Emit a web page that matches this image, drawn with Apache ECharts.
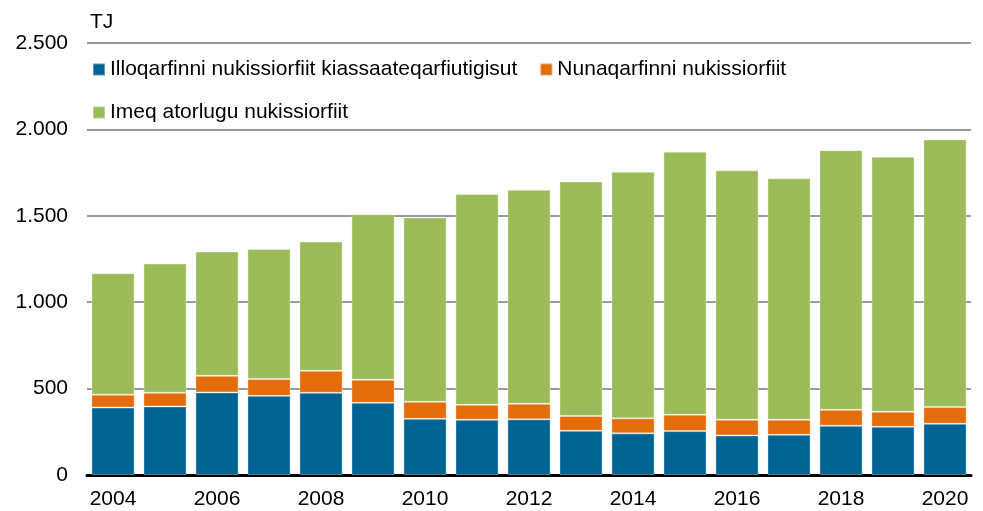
<!DOCTYPE html>
<html>
<head>
<meta charset="utf-8">
<script src="https://cdn.jsdelivr.net/npm/echarts@6/dist/echarts.min.js"></script>
<style>
  html, body { margin: 0; padding: 0; background: #fff; }
  #chart { width: 983px; height: 511px; }
</style>
</head>
<body>
<div id="chart"></div>
<script>
// years on the x axis
const years = ['2004', '2005', '2006', '2007', '2008', '2009', '2010', '2011', '2012',
  '2013', '2014', '2015', '2016', '2017', '2018', '2019', '2020'];
const seriesNames = ['Illoqarfinni nukissiorfiit kiassaateqarfiutigisut',
  'Nunaqarfinni nukissiorfiit', 'Imeq atorlugu nukissiorfiit'];
// TJ
const illoqarfinni = [390, 397, 478, 458, 476, 418, 325, 320, 322, 256, 241, 254, 229, 233, 285, 279, 297];
const nunaqarfinni = [75, 79, 96, 97, 127, 133, 99, 86, 90, 85, 87, 95, 91, 87, 92, 87, 96];
const imeq = [703, 748, 719, 753, 748, 958, 1066, 1220, 1239, 1358, 1427, 1522, 1443, 1397, 1503, 1476, 1549];
const yTicks = [0, 500, 1000, 1500, 2000, 2500];

const colors = ['#006391', '#e46c0a', '#9bbb59'];
const font = 'Liberation Sans, Arial, sans-serif';
const fontSize = 21;

const chart = echarts.init(document.getElementById('chart'));

function fmt(v) {
  return String(v).replace(/\B(?=(\d{3})+(?!\d))/g, '.');
}

function bar(name, data, color) {
  return {
    name: name,
    type: 'bar',
    stack: 'total',
    data: data,
    barCategoryGap: '17%',
    itemStyle: { color: color, borderColor: 'rgba(255,255,255,0.35)', borderWidth: 1 }
  };
}

const legendText = { fontFamily: font, fontSize: fontSize, color: '#000' };

const option = {
  animation: false,
  color: colors,
  textStyle: { fontFamily: font },
  title: {
    text: 'TJ',
    left: 85, top: 7,
    textStyle: { fontFamily: font, fontSize: fontSize, fontWeight: 'normal', color: '#000' }
  },
  legend: [
    {
      data: [seriesNames[0], seriesNames[1]],
      left: 87, top: 54,
      icon: 'rect', itemWidth: 12, itemHeight: 12, itemGap: 22,
      textStyle: legendText
    },
    {
      data: [seriesNames[2]],
      left: 87, top: 97,
      icon: 'rect', itemWidth: 12, itemHeight: 12,
      textStyle: legendText
    }
  ],
  grid: { left: 87, right: 12, top: 43, bottom: 36, containLabel: false },
  xAxis: {
    type: 'category',
    data: years,
    axisTick: { show: false },
    axisLine: { lineStyle: { color: '#000', width: 3 } },
    axisLabel: {
      interval: 1, margin: 14,
      fontFamily: font, fontSize: fontSize, color: '#000'
    }
  },
  yAxis: {
    type: 'value',
    min: yTicks[0], max: yTicks[yTicks.length - 1], interval: 500,
    axisLine: { show: false },
    axisTick: { show: false },
    splitLine: { lineStyle: { color: '#999', width: 2 } },
    axisLabel: {
      margin: 19, fontFamily: font, fontSize: fontSize, color: '#000',
      formatter: fmt
    }
  },
  series: [
    bar(seriesNames[0], illoqarfinni, colors[0]),
    bar(seriesNames[1], nunaqarfinni, colors[1]),
    bar(seriesNames[2], imeq, colors[2])
  ]
};

chart.setOption(option);
</script>
</body>
</html>
